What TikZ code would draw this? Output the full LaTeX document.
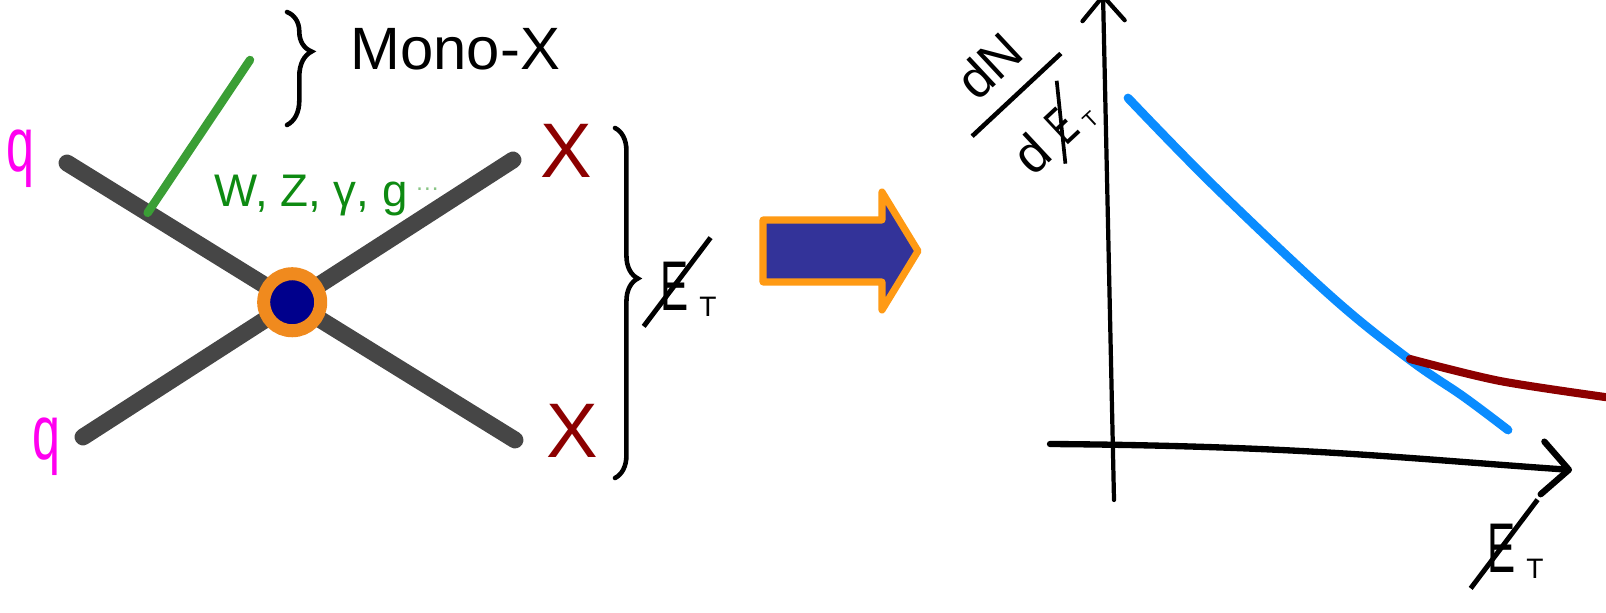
\documentclass[tikz,border=0pt]{standalone}
\usepackage{fontspec}
\setmainfont{Liberation Sans}
\usepackage{amsmath}
\usepackage{graphicx}
\usetikzlibrary{arrows.meta,positioning,decorations.pathreplacing,calc}
\definecolor{qPink}{HTML}{FF00F0}
\definecolor{xRed}{HTML}{8C0000}
\definecolor{bosonGreen}{HTML}{3A9E35}
\definecolor{labelGreen}{HTML}{0E8A12}
\definecolor{blobOrange}{HTML}{F08A1E}
\definecolor{blobBlue}{HTML}{00008C}
\definecolor{arrowBlue}{HTML}{333399}
\definecolor{arrowOrange}{HTML}{FF9A14}
\definecolor{smBlue}{HTML}{0A8CFF}
\definecolor{lineGray}{HTML}{464646}

% slashed E with subscript T
\newcommand{\met}{\makebox[0pt][l]{\hspace*{-0.27em}\raisebox{-0.24em}{\rotatebox{53}{\rule{1.58em}{0.07em}}}}\scalebox{0.6}[1]{E}\hspace{0.15em}\raisebox{-0.08em}{\scalebox{0.4}{T}}}

\tikzset{
    quark/.style={line width=4.8pt,draw=lineGray,line cap=round},
    boson/.style={line width=2.4pt,draw=bosonGreen,line cap=round},
    handbrace/.style={decorate,decoration={brace,amplitude=#1},line width=1.3pt,line cap=round},
    handbrace/.default=6pt,
    qlabel/.style={text=qPink,font=\fontsize{22}{26}\selectfont,inner sep=0pt},
    xlabel/.style={text=xRed,font=\fontsize{22}{26}\selectfont,inner sep=0pt},
    metlabel/.style={font=\fontsize{20}{24}\selectfont,inner sep=0pt,anchor=base west},
    vertex/.style={circle,fill=blobBlue,draw=blobOrange,line width=3.7pt,minimum size=0.57cm,inner sep=0pt},
    axisline/.style={line width=1.4pt,line cap=round}
}

\begin{document}
\begin{tikzpicture}[x=0.01cm,y=-0.01cm]
  \useasboundingbox (0,0) rectangle (1606,613);

  % quark lines and the contact vertex
  \coordinate (qa) at (67,163);
  \coordinate (qb) at (83,437);
  \coordinate (xa) at (513,160);
  \coordinate (xb) at (515,440);
  \draw[quark] (qa) -- (xb);
  \draw[quark] (qb) -- (xa);
  \coordinate (vtx) at (intersection of qa--xb and qb--xa);
  \node[vertex] (blob) at (vtx) {};

  % initial state radiation
  \coordinate (emit) at ($(qa)!0.18!(xb)$);
  \coordinate (bosonend) at (250,60);
  \draw[boson] (emit) -- (bosonend);
  \node[anchor=base west,text=labelGreen,font=\fontsize{13}{16}\selectfont] (bosons) at (202,207)
    {W, Z, γ, g\,\raisebox{0.35em}{\color{bosonGreen!60}\fontsize{7}{7}\selectfont\dots}};

  % external labels
  \node[qlabel,anchor=base] (qup) at (20,172) {\scalebox{0.65}[1]{q}};
  \node[qlabel,anchor=base] (qdown) at (46,460) {\scalebox{0.65}[1]{q}};
  \node[xlabel] (xup) at (566,151) {X};
  \node[xlabel] (xdown) at (572,431) {X};

  % braces
  \draw[handbrace=7pt,decoration={aspect=0.35}] (287,12) -- (287,125);
  \node[anchor=base west,font=\fontsize{17}{20}\selectfont,inner sep=0pt] (mono) at (350,70) {Mono-X};
  \draw[handbrace=6.5pt,decoration={aspect=0.43}] (615,128) -- (615,478);
  \node[metlabel] (metleft) at (660,311) {\met};

  % big arrow
  \draw[fill=arrowBlue,draw=arrowOrange,line width=2pt,line join=round]
    (763,220) -- (882,220) -- (882,192) -- (918,251) -- (882,310) -- (882,282) -- (763,282) -- cycle;

  % spectrum plot
  \coordinate (yfoot) at (1114,500);
  \coordinate (ytop) at (1103,-6);
  \coordinate (xstart) at (1050,444);
  \coordinate (xend) at (1572,470);
  \draw[axisline,line width=1.2pt,-{Straight Barb[length=7pt,width=12pt,round]}] (yfoot) -- (ytop);
  \draw[axisline,line width=1.8pt,-{Straight Barb[length=7.5pt,width=15pt,round]}]
    (xstart) .. controls (1300,446) and (1400,458) .. (xend);
  \node[rotate=43,font=\fontsize{15}{18}\selectfont,inner sep=0pt] (ylabel) at (1025,104)
    {$\genfrac{}{}{1.3pt}{0}{\makebox[2.3em]{dN}}{\makebox[2.3em]{d\hspace{0.3em}\met}}$};
  \node[metlabel] (metright) at (1487,573) {\met};

  \draw[smBlue,line width=2.5pt,line cap=round] plot[smooth,tension=0.6]
    coordinates {(1128,98) (1215,187) (1333,298) (1410,360) (1464,397) (1508,430)};
  \draw[xRed,line width=2.3pt,line cap=round] plot[smooth]
    coordinates {(1410,359) (1500,381) (1612,398)};
\end{tikzpicture}
\end{document}
